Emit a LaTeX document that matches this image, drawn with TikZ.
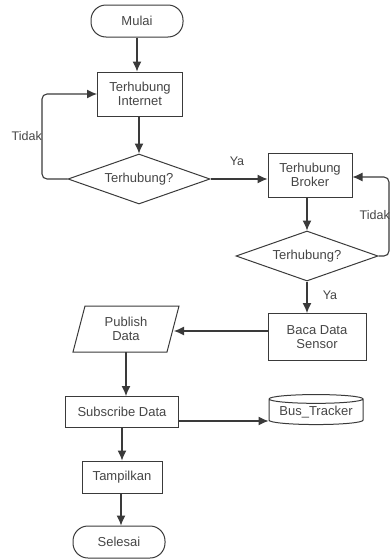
\documentclass[tikz,border=0pt]{standalone}
\usepackage{fontspec}
\setmainfont{Liberation Sans}
\usetikzlibrary{shapes.geometric,arrows.meta}
\definecolor{ln}{HTML}{3A3A3A}
\definecolor{tx}{HTML}{454545}
\begin{document}
\begin{tikzpicture}[x=1pt,y=-1pt,
  every node/.style={font=\fontsize{13}{14}\selectfont,text=tx,align=center,inner sep=1pt},
  box/.style={draw=ln,line width=1pt,minimum width=#1},
  term/.style={draw=ln,line width=1pt,rounded corners=15pt,minimum height=32pt,minimum width=92pt},
  dec/.style={draw=ln,line width=1pt,diamond,aspect=2.8,minimum width=142pt,minimum height=50pt,inner sep=0pt},
  conn/.style={draw=ln,line width=1.1pt,-{Latex[length=10pt,width=9pt]}},
  lbl/.style={font=\fontsize{12.5}{13}\selectfont}]
\useasboundingbox (0,0) rectangle (390,560);
\node[term] (mulai) at (137,21) {Mulai};
\node[box=85pt,minimum height=44pt] (inet) at (140,94) {Terhubung\\Internet};
\node[dec] (d1) at (139,179) {Terhubung?};
\node[box=84pt,minimum height=44pt] (broker) at (310,175) {Terhubung\\Broker};
\node[dec] (d2) at (307,256) {Terhubung?};
\node[box=98pt,minimum height=47pt] (baca) at (317,337) {Baca Data\\Sensor};
\draw[ln,line width=1pt] (85,306) -- (179,306) -- (167,352) -- (73,352) -- cycle;
\node[minimum width=95pt,minimum height=46pt] (pub) at (126,329) {Publish\\Data};
\node[box=113pt,minimum height=31pt] (sub) at (122,412) {Subscribe Data};
\node[draw=ln,line width=1pt,cylinder,shape border rotate=90,aspect=0.12,minimum width=94pt,minimum height=30pt,inner sep=0pt] (bus) at (316,412) {Bus\_Tracker};
\node[box=80pt,minimum height=32pt] (tamp) at (122,477) {Tampilkan};
\node[term] (sel) at (119,542) {Selesai};
% connectors
\draw[conn] (mulai.south) -- (mulai.south |- inet.north);
\draw[conn] (inet.south -| d1.north) -- (d1.north);
\coordinate (l1) at (42,179);
\draw[conn,rounded corners=5pt] (d1.west) -- (d1.west -| l1) |- (inet.west);
\node[lbl,anchor=east,inner sep=0pt] (t1) at (42,136) {Tidak};
\draw[conn] (d1.east) -- (d1.east -| broker.west);
\node[lbl] (y1) at (237,161) {Ya};
\draw[conn] (broker.south -| d2.north) -- (d2.north);
\coordinate (r1) at (389,256);
\draw[conn,rounded corners=5pt] (d2.east) -- (r1) |- ([yshift=-2pt]broker.east);
\node[lbl,anchor=east,inner sep=0pt] (t2) at (390,215) {Tidak};
\draw[conn] (d2.south) -- (d2.south |- baca.north);
\node[lbl] (y2) at (330,295) {Ya};
\draw[conn] (baca.west |- 0,331) -- (174,331);
\draw[conn] (pub.south) -- (pub.south |- sub.north);
\draw[conn] ([yshift=-9pt]sub.east) -- ([yshift=-9pt]sub.east -| bus.west);
\draw[conn] (sub.south) -- (sub.south |- tamp.north);
\draw[conn] (tamp.south -| sel.north) ++(2,0) -- ([xshift=2pt]sel.north);
\end{tikzpicture}
\end{document}
